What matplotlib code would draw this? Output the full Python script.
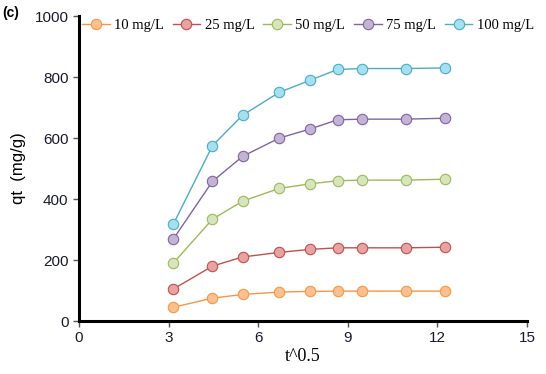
import numpy as np
import matplotlib.pyplot as plt

# данные: t^0.5 и qt для разных концентраций
t_sqrt = [3.16, 4.47, 5.48, 6.71, 7.75, 8.66, 9.49, 10.95, 12.25]
q_10 = [45, 75, 87, 95, 97, 98, 98, 98, 98]
q_25 = [105, 180, 210, 225, 235, 240, 240, 240, 242]
q_50 = [190, 334, 393, 435, 450, 460, 462, 462, 465]
q_75 = [269, 458, 540, 600, 630, 660, 662, 662, 665]
q_100 = [318, 575, 675, 750, 790, 825, 828, 828, 830]
labels = ['10 mg/L', '25 mg/L', '50 mg/L', '75 mg/L', '100 mg/L']

series = [q_10, q_25, q_50, q_75, q_100]
line_colors = ['#F79646', '#C0504D', '#9BBB59', '#8064A2', '#4BACC6']
face_colors = ['#FAC090', '#E6A3A2', '#D7E4BD', '#C3B4D6', '#A5DFF0']

fig = plt.figure(figsize=(5.46, 3.74), dpi=100)
ax = fig.add_axes([0.1447, 0.1417, 0.8203, 0.8153])

for q, lab, lc, fc in zip(series, labels, line_colors, face_colors):
    ax.plot(t_sqrt, q, color=lc, linewidth=1.0, marker='o', markersize=7.5,
            markerfacecolor=fc, markeredgecolor=lc, markeredgewidth=0.8, label=lab)

ax.set_xlim(0, 15)
ax.set_ylim(0, 1000)
ax.set_xticks([0, 3, 6, 9, 12, 15])
ax.set_yticks([0, 200, 400, 600, 800, 1000])

for s in ['top', 'right']:
    ax.spines[s].set_visible(False)
for s in ['left', 'bottom']:
    ax.spines[s].set_linewidth(2.2)

ax.tick_params(axis='both', direction='out', length=4, width=1, colors='#555555',
               labelcolor='#1a1a2e', labelsize=11)
for lbl in ax.get_xticklabels() + ax.get_yticklabels():
    lbl.set_fontfamily('Liberation Sans')

ax.set_xlabel('t^0.5', fontfamily='Liberation Serif', fontsize=13, labelpad=2)
ax.set_ylabel('qt  (mg/g)', fontfamily='Liberation Sans', fontsize=12, labelpad=6)

fig.text(0.005, 0.955, '(c)', fontsize=10, fontweight='bold', fontfamily='Liberation Sans')

ax.legend(loc='upper left', bbox_to_anchor=(0.0, 1.0), ncol=5, frameon=False,
          prop={'family': 'Liberation Serif', 'size': 10.5}, handlelength=1.9,
          handletextpad=0.3, columnspacing=0.6, borderaxespad=0, borderpad=0.2)

plt.savefig('out.png', dpi=100)
